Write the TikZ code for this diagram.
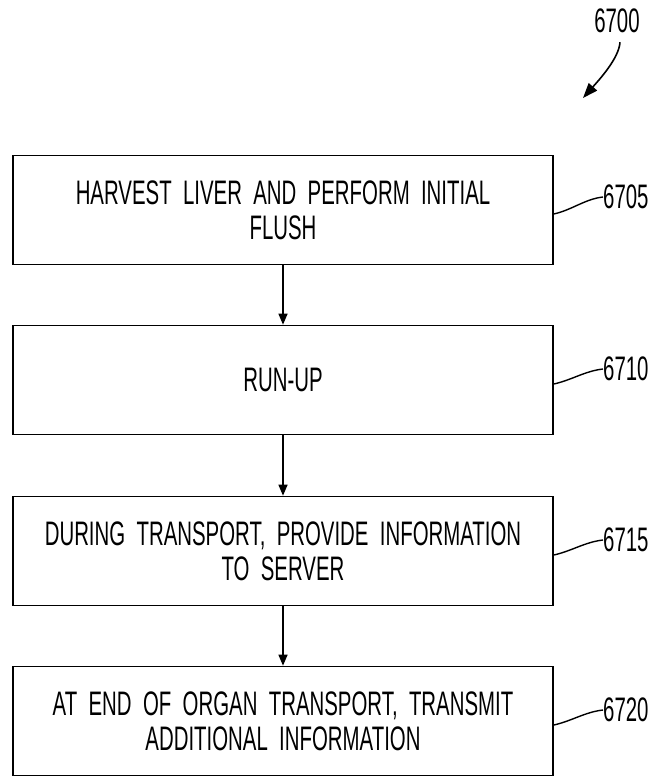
\documentclass[tikz,border=0pt]{standalone}
\usepackage{fontspec}
\setmainfont{Liberation Sans}[FakeStretch=0.6]
\usetikzlibrary{arrows.meta}
\newcommand{\boxfont}{\fontsize{34}{35}\selectfont\spaceskip=0.15em plus 0.05em\relax}
\begin{document}
\begin{tikzpicture}[x=1pt,y=1pt,
  stepbox/.style={draw, line width=1.6pt, minimum width=540pt, minimum height=109pt, text width=530pt, align=center, font=\boxfont, inner sep=0pt},
  flow/.style={line width=1.4pt, -{Triangle[length=11pt,width=9pt]}},
  lead/.style={line width=1.4pt},
  reflabel/.style={font=\boxfont, anchor=west, inner sep=0pt}]
\useasboundingbox (0,0) rectangle (658,-777);
\node[stepbox] (b1) at (283,-210) {HARVEST LIVER AND PERFORM INITIAL\\FLUSH};
\node[stepbox] (b2) at (283,-380) {RUN-UP};
\node[stepbox] (b3) at (283,-551) {DURING TRANSPORT, PROVIDE INFORMATION\\TO SERVER};
\node[stepbox] (b4) at (283,-721) {AT END OF ORGAN TRANSPORT, TRANSMIT\\ADDITIONAL INFORMATION};
\draw[flow] (b1) -- (b2);
\draw[flow] (b2) -- (b3);
\draw[flow] (b3) -- (b4);
\node[reflabel] (l1) at (603,-197) {6705};
\node[reflabel] (l2) at (603,-369) {6710};
\node[reflabel] (l3) at (603,-540) {6715};
\node[reflabel] (l4) at (603,-710) {6720};
\draw[lead] ([yshift=-4pt]b1.east) .. controls +(18,4) and +(-18,-2) .. (l1.west);
\draw[lead] ([yshift=-4pt]b2.east) .. controls +(18,4) and +(-18,-2) .. (l2.west);
\draw[lead] ([yshift=-4pt]b3.east) .. controls +(18,4) and +(-18,-2) .. (l3.west);
\draw[lead] ([yshift=-4pt]b4.east) .. controls +(18,4) and +(-18,-2) .. (l4.west);
\node[reflabel, anchor=center] (l0) at (617,-21) {6700};
\coordinate (t0) at (583,-98);
\draw[line width=1.6pt, -{Triangle[length=15pt,width=11pt]}] ([xshift=3pt,yshift=-9pt]l0.south) .. controls +(-1,-16) and +(16,18) .. (t0);
\end{tikzpicture}
\end{document}
